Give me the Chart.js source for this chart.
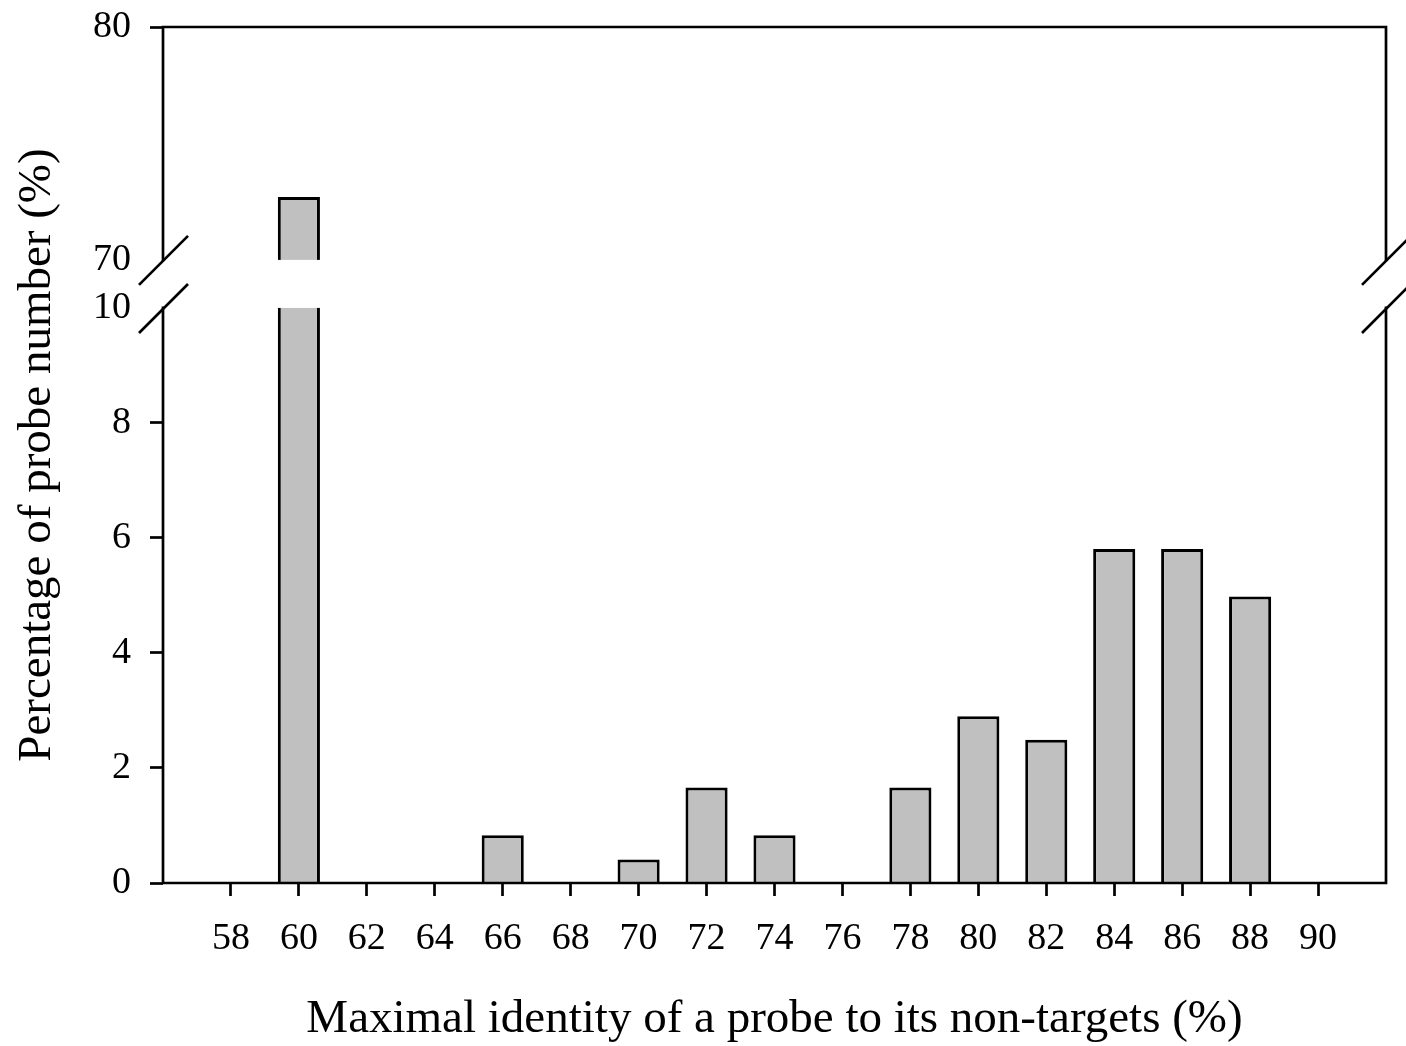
<!DOCTYPE html>
<html>
<head>
<meta charset="utf-8">
<script src="https://cdn.jsdelivr.net/npm/chart.js@4.4.1/dist/chart.umd.min.js"></script>
<style>
	html, body { margin: 0; padding: 0; background: #fff; }
	#wrap { width: 1406px; height: 1046px; position: relative; }
</style>
</head>
<body>
<div id="wrap"><canvas id="chart-identity"></canvas></div>
<script>
	// maximal identity (%) of a probe to its non-targets
	let identity = [58, 60, 62, 64, 66, 68, 70, 72, 74, 76, 78, 80, 82, 84, 86, 88, 90];
	// percentage of probe number (%)
	let percent = [0, 72.7, 0, 0, 0.83, 0, 0.41, 1.66, 0.83, 0, 1.66, 2.90, 2.49, 5.81, 5.81, 4.98, 0];
	let yTicksLow = [0, 2, 4, 6, 8, 10];
	let yTicksHigh = [70, 80];

	let xTitle = 'Maximal identity of a probe to its non-targets (%)';
	let yTitle = 'Percentage of probe number (%)';

	// broken y axis: 0-10 at the bottom, 70-80 squeezed on top
	let breakLow = 10, breakHigh = 70;
	let gapSize = 0.835;    // blank between the two parts, in lower units
	let highScale = 0.405;  // upper part is flatter

	function brk(v) {
		if (v <= breakLow) return v;
		return breakLow + gapSize + (v - breakHigh) * highScale;
	}
	function unbrk(v) {
		if (v <= breakLow) return v;
		return breakHigh + (v - breakLow - gapSize) / highScale;
	}

	let tickFont = { family: 'Liberation Serif', size: 38 };
	let titleFont = { family: 'Liberation Serif', size: 47, lineHeight: 1 };

	function noPad(s) {
		s.paddingTop = 0; s.paddingBottom = 0;
		s.paddingLeft = 0; s.paddingRight = 0;
	}

	let axisBreak = {
		id: 'axisBreak',
		afterDatasetsDraw(chart) {
			let ctx = chart.ctx, a = chart.chartArea, y = chart.scales.y;
			let yTop = y.getPixelForValue(brk(breakHigh));
			let yBot = y.getPixelForValue(breakLow);
			ctx.save();
			// cut the tall bar
			ctx.fillStyle = '#fff';
			chart.getDatasetMeta(0).data.forEach(bar => {
				if (bar.y < yTop) ctx.fillRect(bar.x - bar.width / 2 - 3, yTop, bar.width + 6, yBot - yTop);
			});
			ctx.strokeStyle = '#000';
			ctx.lineWidth = 2.7;
			ctx.lineCap = 'square';
			ctx.beginPath();
			ctx.moveTo(a.left, a.top); ctx.lineTo(a.right, a.top);
			ctx.moveTo(a.left, a.bottom); ctx.lineTo(a.right, a.bottom);
			[a.left, a.right].forEach(sx => {
				ctx.moveTo(sx, a.top); ctx.lineTo(sx, yTop);
				ctx.moveTo(sx, yBot); ctx.lineTo(sx, a.bottom);
			});
			ctx.stroke();
			ctx.lineCap = 'butt';
			ctx.beginPath();
			[a.left, a.right].forEach(sx => {
				[yTop, yBot].forEach(sy => {
					ctx.moveTo(sx - 24, sy + 25);
					ctx.lineTo(sx + 25, sy - 24);
				});
			});
			ctx.stroke();
			ctx.restore();
		}
	};

	function zhuzhuangtu(element, x, y) {
		let barData = {
			datasets: [{
				data: x.map((v, i) => ({ x: v, y: y[i] ? brk(y[i]) : null })),
				backgroundColor: '#c0c0c0',
				borderColor: '#000',
				borderWidth: 3,
				categoryPercentage: 1,
				barPercentage: 0.62
			}]
		};

		new Chart(document.querySelector(element), {
			type: 'bar',
			data: barData,
			plugins: [axisBreak],
			options: {
				responsive: true,
				maintainAspectRatio: false,
				animation: false,
				layout: { padding: { top: 27, right: 20, left: 0, bottom: 0 } },
				plugins: { legend: { display: false }, tooltip: { enabled: false } },
				scales: {
					x: {
						type: 'linear',
						min: 56,
						max: 92,
						offset: false,
						afterBuildTicks: s => { s.ticks = identity.map(v => ({ value: v })); },
						afterFit: s => { s.height = 163; noPad(s); },
						ticks: { font: tickFont, color: '#000', padding: 20, autoSkip: false, maxRotation: 0 },
						grid: { offset: false, drawOnChartArea: false, tickLength: 13, tickWidth: 2.7, tickColor: '#000' },
						border: { display: false },
						title: { display: true, text: xTitle, font: titleFont, color: '#000', padding: { top: 0, bottom: 3 } }
					},
					y: {
						type: 'linear',
						min: 0,
						max: brk(80),
						afterBuildTicks: s => { s.ticks = yTicksLow.concat(yTicksHigh.map(brk)).map(v => ({ value: v })); },
						afterFit: s => { s.width = 163; noPad(s); },
						ticks: {
							font: tickFont, color: '#000', padding: 19, autoSkip: false,
							callback: v => v > breakLow ? Math.round(unbrk(v)) : v
						},
						grid: {
							drawOnChartArea: false, tickLength: 13, tickWidth: 2.7,
							tickColor: c => (c.tick && (c.tick.value === breakLow || c.tick.value === brk(breakHigh))) ? 'rgba(0,0,0,0)' : '#000'
						},
						border: { display: false },
						title: { display: true, text: yTitle, font: titleFont, color: '#000', padding: { top: 14, bottom: 0 } }
					}
				}
			}
		});
	}

	zhuzhuangtu('#chart-identity', identity, percent);
</script>
</body>
</html>
